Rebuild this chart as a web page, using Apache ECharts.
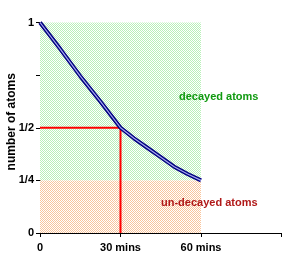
<!DOCTYPE html>
<html>
<head>
<meta charset="utf-8">
<script src="https://cdn.jsdelivr.net/npm/echarts@6/dist/echarts.min.js"></script>
<style>
html,body{margin:0;padding:0;background:#fff;}
#c{width:297px;height:273px;}
</style>
</head>
<body>
<div id="c"></div>
<script>
// Data
var times = [0, 7.5, 15, 22.5, 30, 35, 40, 45, 50, 55, 60];
var atoms = [1, 0.875, 0.745, 0.625, 0.5, 0.45, 0.405, 0.36, 0.315, 0.28, 0.25];
var halfLifeGuide = [[0, 0.5], [30, 0.5], [30, 0]];
var yTickLabels = {0: '0', 0.25: '1/4', 0.5: '1/2', 0.75: '', 1: '1'};
var xTickLabels = {0: '0', 30: '30 mins', 60: '60 mins', 90: ''};
var decayedRegion = [[0, 0.25], [60, 1]];
var undecayedRegion = [[0, 0], [60, 0.25]];

function checker(c) {
  var cv = document.createElement('canvas');
  cv.width = 2; cv.height = 2;
  var ctx = cv.getContext('2d');
  ctx.fillStyle = '#ffffff'; ctx.fillRect(0, 0, 2, 2);
  ctx.fillStyle = c; ctx.fillRect(0, 0, 1, 1); ctx.fillRect(1, 1, 1, 1);
  return {image: cv, repetition: 'repeat'};
}

var chart = echarts.init(document.getElementById('c'), null, {renderer: 'canvas'});
var font = 'Liberation Sans, Arial, sans-serif';
chart.setOption({
  animation: false,
  grid: {left: 40, top: 22.5, width: 241.5, height: 210.5, containLabel: false, outerBoundsMode: 'none'},
  xAxis: {
    type: 'value', min: 0, max: 90, interval: 30,
    axisLine: {lineStyle: {color: '#000', width: 1}},
    axisTick: {show: true, length: 4, lineStyle: {color: '#000'}},
    splitLine: {show: false},
    axisLabel: {color: '#000', fontFamily: font, fontWeight: 'bold', fontSize: 11, margin: 9,
      formatter: function (v) { return xTickLabels[v] !== undefined ? xTickLabels[v] : ''; }}
  },
  yAxis: {
    type: 'value', min: 0, max: 1, interval: 0.25,
    name: 'number of atoms', nameLocation: 'middle', nameGap: 22, nameMoveOverlap: false,
    nameTextStyle: {color: '#000', fontFamily: font, fontWeight: 'bold', fontSize: 12, padding: [0, 0, 0, 12]},
    axisLine: {show: true, lineStyle: {color: '#000', width: 1}},
    axisTick: {show: true, length: 4, lineStyle: {color: '#000'}},
    splitLine: {show: false},
    axisLabel: {color: '#000', fontFamily: font, fontWeight: 'bold', fontSize: 11, margin: 6,
      formatter: function (v) { return yTickLabels[v] !== undefined ? yTickLabels[v] : ''; }}
  },
  series: [
    {
      type: 'line', data: [], silent: true,
      markArea: {
        silent: true,
        data: [
          [{coord: decayedRegion[0], itemStyle: {color: checker('#b8f0b8')}}, {coord: decayedRegion[1]}],
          [{coord: undecayedRegion[0], itemStyle: {color: checker('#f8c49c')}}, {coord: undecayedRegion[1]}]
        ]
      }
    },
    {
      type: 'line', data: halfLifeGuide, symbol: 'none', silent: true,
      lineStyle: {color: '#ff0000', width: 2}, z: 3
    },
    {
      type: 'line', data: times.map(function (t, i) { return [t, atoms[i]]; }),
      symbol: 'none', silent: true, lineStyle: {color: '#000080', width: 4}, z: 4
    },
    {
      type: 'line', data: times.map(function (t, i) { return [t, atoms[i]]; }),
      symbol: 'none', silent: true, lineStyle: {color: '#a8a8f0', width: 1.2}, z: 5
    }
  ],
  graphic: [
    {type: 'text', z: 100, left: 179, top: 91, style: {text: 'decayed atoms', fill: '#109a10', font: 'bold 11px ' + font}},
    {type: 'text', z: 100, left: 161, top: 197, style: {text: 'un-decayed atoms', fill: '#b01818', font: 'bold 11px ' + font}}
  ]
});
</script>
</body>
</html>
